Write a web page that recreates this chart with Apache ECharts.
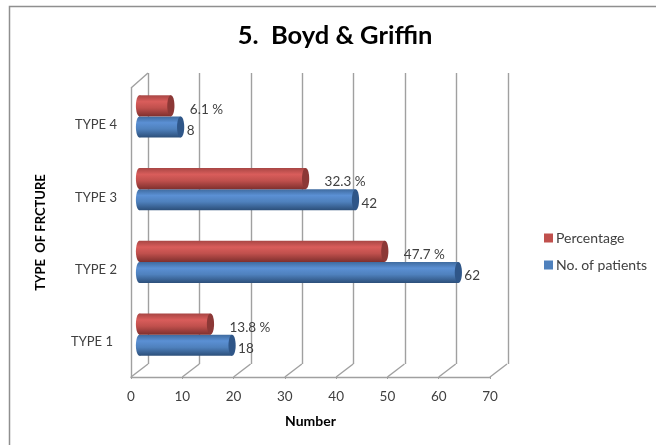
<!DOCTYPE html>
<html><head><meta charset="utf-8">
<style>html,body{margin:0;padding:0;background:#fff}#c{width:656px;height:445px}</style>
<script src="https://cdn.jsdelivr.net/npm/echarts@6/dist/echarts.min.js"></script>
</head><body><div id="c"></div>
<script>
const categories = ['TYPE 1','TYPE 2','TYPE 3','TYPE 4'];
const patients = [18,62,42,8];
const percentage = [13.8,47.7,32.3,6.1];
const axisTicks = [0,10,20,30,40,50,60,70];
const FONT = 'Lato, "Open Sans", sans-serif';
const GRID = '#a0a0a0', TXT = '#404040';
const chart = echarts.init(document.getElementById('c'), null, {renderer:'canvas'});

function cyl(colors, capColor, dir, labelFn, labelDx, labelSize) {
  return function(params, api){
    const v = api.value(0), c = api.value(1);
    const p = api.coord([v,c]), p0 = api.coord([0,c]);
    const band = api.size([0,1])[1];
    const h = band*0.29;
    const y = p[1] + dir*h/2 - h/2;
    const rx = 3.6;
    const grad = new echarts.graphic.LinearGradient(0,0,0,1,[
      {offset:0,color:colors[0]},{offset:.3,color:colors[1]},{offset:.6,color:colors[2]},{offset:1,color:colors[3]}]);
    return {type:'group',children:[
      {type:'ellipse',shape:{cx:p0[0],cy:y+h/2,rx:rx,ry:h/2},style:{fill:grad}},
      {type:'rect',shape:{x:p0[0],y:y,width:p[0]-p0[0],height:h},style:{fill:grad}},
      {type:'ellipse',shape:{cx:p[0],cy:y+h/2,rx:rx,ry:h/2},style:{fill:capColor}},
      {type:'text',x:p[0]+labelDx,y:y+h/2+3.5,style:{text:labelFn(v),font:labelSize+'px '+FONT,fill:TXT,textVerticalAlign:'middle',textAlign:'left'}}
    ]};
  };
}
function depthLines(params, api){
  const p = api.coord([api.value(0),0]);
  const size = api.size([0,1])[1]*4;
  const bottom = p[1] + api.size([0,1])[1]/2;
  const lines = [{type:'line',shape:{x1:p[0],y1:bottom,x2:p[0]+17,y2:bottom-13},style:{stroke:GRID,lineWidth:1.4}}];
  if(api.value(0)===0) lines.push({type:'line',shape:{x1:p[0],y1:bottom-size,x2:p[0]+17,y2:bottom-size-15},style:{stroke:GRID,lineWidth:1.4}});
  return {type:'group',children:lines};
}
chart.setOption({
  animation:false,
  backgroundColor:'#fff',
  title:{text:'5.  Boyd & Griffin',left:330,top:18,textAlign:'center',textStyle:{fontFamily:FONT,fontSize:25.5,fontWeight:'bold',color:'#000'}},
  legend:{data:['Percentage','No. of patients'],orient:'vertical',left:539,top:226,itemWidth:9,itemHeight:9,itemGap:13,icon:'rect',
    textStyle:{fontFamily:FONT,fontSize:14,color:TXT,padding:[0,0,0,-2]}},
  grid:[
    {left:131,width:359,top:88,height:289},
    {left:148,width:360,top:73,height:291},
    {left:139.5,width:360,top:80,height:291}
  ],
  xAxis:[
    {gridIndex:0,type:'value',min:0,max:70,interval:10,name:'Number',nameLocation:'middle',nameGap:37,
      nameTextStyle:{fontFamily:FONT,fontSize:14,fontWeight:'bold',color:'#000'},
      axisLine:{show:true,lineStyle:{color:GRID,width:1.4}},axisTick:{show:true,length:2,lineStyle:{color:GRID}},
      axisLabel:{fontFamily:FONT,fontSize:13.5,color:TXT,margin:13},splitLine:{show:false}},
    {gridIndex:1,type:'value',min:0,max:70,interval:10,axisLine:{show:false},axisTick:{show:false},axisLabel:{show:false},
      splitLine:{show:true,lineStyle:{color:GRID,width:1.4}}},
    {gridIndex:2,type:'value',min:0,max:70,interval:10,axisLine:{show:false},axisTick:{show:false},axisLabel:{show:false},splitLine:{show:false}}
  ],
  yAxis:[
    {gridIndex:0,type:'category',data:categories,name:'TYPE  OF FRCTURE',nameLocation:'middle',nameGap:84,nameRotate:90,
      nameTextStyle:{fontFamily:FONT,fontSize:13,fontWeight:'bold',color:'#000'},
      axisLine:{show:true,onZero:false,lineStyle:{color:GRID,width:1.4}},axisTick:{show:false},
      axisLabel:{fontFamily:FONT,fontSize:13,color:TXT,margin:14,
        formatter:v=>v===categories[0]?'{s|'+v+'}':'{n|'+v+'}',
        rich:{s:{fontFamily:FONT,fontSize:13,color:TXT,padding:[2,4,0,0]},n:{fontFamily:FONT,fontSize:13,color:TXT,padding:[2,0,0,0]}}}},
    {gridIndex:1,type:'category',data:categories,show:false},
    {gridIndex:2,type:'category',data:categories,show:false}
  ],
  series:[
    {type:'custom',xAxisIndex:0,yAxisIndex:0,silent:true,clip:false,z:2,legendHoverLink:false,
      data:axisTicks.map(t=>[t,0]),encode:{x:0,y:1},renderItem:depthLines,tooltip:{show:false}},
    {name:'No. of patients',type:'custom',xAxisIndex:2,yAxisIndex:2,clip:false,z:3,itemStyle:{color:'#4f81bd'},
      data:patients.map((v,i)=>[v,i]),encode:{x:0,y:1},
      renderItem:cyl(['#3e6a9e','#5b90d4','#4f81bd','#2c4f7a'],'#2f5688',1,v=>String(v),6,13.5)},
    {name:'Percentage',type:'custom',xAxisIndex:2,yAxisIndex:2,clip:false,z:3,itemStyle:{color:'#c0504d'},
      data:percentage.map((v,i)=>[v,i]),encode:{x:0,y:1},
      renderItem:cyl(['#a84644','#d95d5b','#c0504d','#7f302e'],'#8c3836',-1,v=>v+' %',19,13.5)}
  ],
  graphic:[
    {type:'polyline',silent:true,shape:{points:[[9.5,445],[9.5,6.5],[656,6.5]]},style:{stroke:'#8f8f8f',lineWidth:1.5,fill:null}}
  ]
});
</script></body></html>
